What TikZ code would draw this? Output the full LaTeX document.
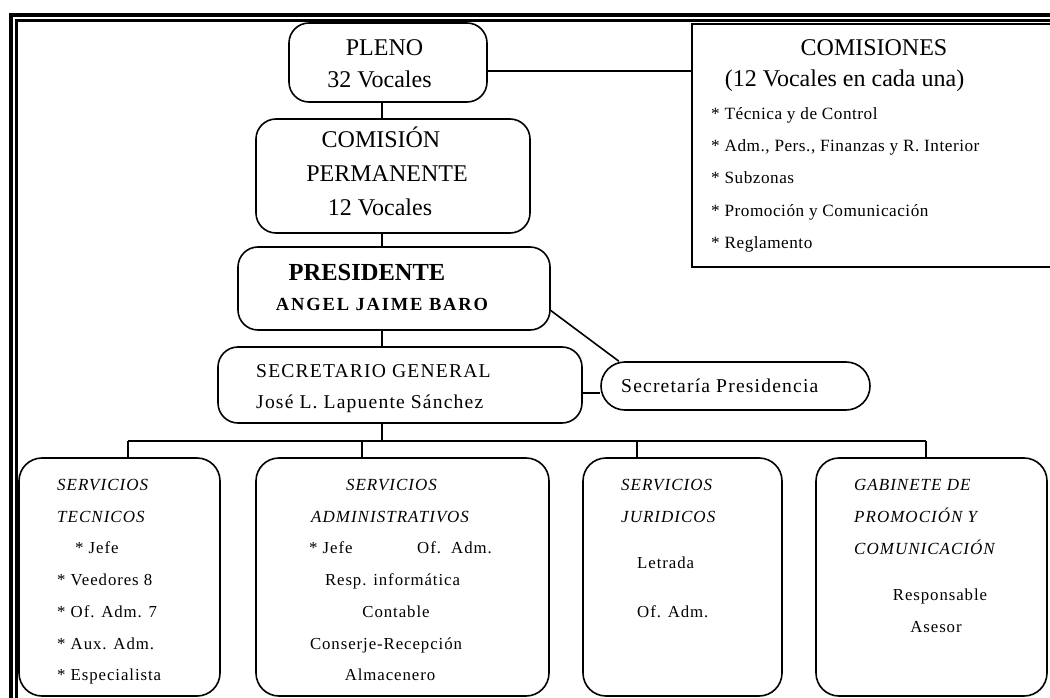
\documentclass[tikz,border=0pt]{standalone}
\usepackage{fontspec}
\setmainfont{Liberation Serif}
\newcommand{\fs}[1]{\fontsize{#1}{#1}\selectfont}
\newcommand{\ls}[1]{\addfontfeature{LetterSpace=#1}}

\begin{document}
\begin{tikzpicture}[x=1pt, y=-1pt, every node/.style={inner sep=0pt}]
\tikzset{
  ubox/.style={draw, line width=1.6pt, rounded corners=20pt},
  lbox/.style={draw, line width=1.6pt, rounded corners=23pt, minimum height=238pt},
  sbox/.style={draw, line width=1.6pt},
  pill/.style={draw, line width=1.6pt, rounded corners=24pt},
  big/.style={anchor=base, font=\fs{24}},
  mid/.style={anchor=base west, font=\fs{19.6}\ls{6}},
  itm/.style={anchor=base west, font=\fs{17.2}\ls{3}},
  txt/.style={anchor=base west, font=\fs{16.8}\ls{5.5}},
  txc/.style={anchor=base, font=\fs{16.8}\ls{5.5}},
  ttl/.style={anchor=base west, font=\fs{17}\itshape\ls{6}},
  conn/.style={line width=1.6pt}
}
\useasboundingbox (0,0) rectangle (1050,698);

% Marco
\draw[line width=4pt] (10.5,698) -- (10.5,15) -- (1050,15);
\draw[line width=2.6pt] (16.5,698) -- (16.5,20.8) -- (1050,20.8);

% Organos de gobierno
\node[ubox, minimum width=198pt, minimum height=79pt] (up_pleno) at (388,62.5) {};
\node[big] (tx_pleno) at (384.5,56) {PLENO};
\node[big] (tx_pleno2) at (379.5,88) {32 Vocales};

\node[ubox, minimum width=274pt, minimum height=114pt] (up_perm) at (393,176) {};
\node[big] (tx_perm1) at (381,148) {COMISIÓN};
\node[big] (tx_perm2) at (387,182) {PERMANENTE};
\node[big] (tx_perm3) at (380,215) {12 Vocales};

\node[ubox, minimum width=312pt, minimum height=83pt] (up_pres) at (394,288.5) {};
\node[big, font=\fs{24.5}\bfseries] (tx_pres1) at (367,280) {PRESIDENTE};
\node[big, font=\fs{18.5}\bfseries\ls{10}] (tx_pres2) at (382,310) {ANGEL JAIME BARO};

\node[ubox, minimum width=364pt, minimum height=76pt] (up_secgen) at (400,385) {};
\node[mid] (tx_secgen1) at (256,377) {SECRETARIO GENERAL};
\node[mid] (tx_secgen2) at (256,408) {José L. Lapuente Sánchez};

\node[pill, minimum width=269pt, minimum height=48pt] (up_secpres) at (735.5,386) {};
\node[mid] (tx_secpres) at (621,392) {Secretaría Presidencia};

% Comisiones
\node[sbox, minimum width=378pt, minimum height=243pt] (up_com) at (881,145.5) {};
\node[big] (tx_com1) at (874,56) {COMISIONES};
\node[big] (tx_com2) at (844.5,87) {(12 Vocales en cada una)};
\node[itm] (it_1) at (711,120) {* Técnica y de Control};
\node[itm] (it_2) at (711,152) {* Adm., Pers., Finanzas y R. Interior};
\node[itm] (it_3) at (711,184) {* Subzonas};
\node[itm] (it_4) at (711,216) {* Promoción y Comunicación};
\node[itm] (it_5) at (711,248) {* Reglamento};

% Servicios
\node[lbox, minimum width=201pt] (sv_tec) at (119.5,577) {};
\node[ttl] (tc_1) at (57,490) {SERVICIOS};
\node[ttl] (tc_2) at (57,522) {TECNICOS};
\node[txt] (tc_3) at (75,553) {* Jefe};
\node[txt] (tc_4) at (57,585) {* Veedores 8};
\node[txt] (tc_5) at (57,617) {* Of. Adm. 7};
\node[txt] (tc_6) at (57,649) {* Aux. Adm.};
\node[txt] (tc_7) at (57,680) {* Especialista};

\node[lbox, minimum width=293pt] (sv_adm) at (402.5,577) {};
\node[txc, font=\fs{17}\itshape\ls{6}] (ad_1) at (391.5,490) {SERVICIOS};
\node[txc, font=\fs{17}\itshape\ls{6}] (ad_2) at (390,522) {ADMINISTRATIVOS};
\node[txt] (ad_3) at (309,553) {* Jefe};
\node[txt] (ad_4) at (417,553) {Of.\ \ Adm.};
\node[txc] (ad_5) at (392.5,585) {Resp. informática};
\node[txc] (ad_6) at (396,617) {Contable};
\node[txc] (ad_7) at (386,649) {Conserje-Recepción};
\node[txc] (ad_8) at (390,680) {Almacenero};

\node[lbox, minimum width=199pt] (sv_jur) at (682.5,577) {};
\node[ttl] (ju_1) at (621,490) {SERVICIOS};
\node[ttl] (ju_2) at (621,522) {JURIDICOS};
\node[txt] (ju_3) at (637,568) {Letrada};
\node[txt] (ju_4) at (637,617) {Of. Adm.};

\node[lbox, minimum width=231pt] (sv_gab) at (931.5,577) {};
\node[ttl] (ga_1) at (854,490) {GABINETE DE};
\node[ttl] (ga_2) at (854,522) {PROMOCIÓN Y};
\node[ttl] (ga_3) at (854,554) {COMUNICACIÓN};
\node[txc] (ga_4) at (940,600) {Responsable};
\node[txc] (ga_5) at (936,632) {Asesor};

% Lineas
\coordinate (spine) at (382,0);
\coordinate (d_tec) at (128,441);
\coordinate (d_adm) at (362,441);
\coordinate (d_jur) at (637,441);
\coordinate (d_gab) at (926,441);

\draw[conn] ([yshift=-8.5pt]up_pleno.east) -- ([yshift=-8.5pt]up_pleno.east -| up_com.west);
\draw[conn] (up_pleno.south -| spine) -- (up_perm.north -| spine);
\draw[conn] (up_perm.south -| spine) -- (up_pres.north -| spine);
\draw[conn] (up_pres.south -| spine) -- (up_secgen.north -| spine);
\draw[conn] (up_pres.-8.7) -- (up_secpres.168);
\draw[conn] ([yshift=-8pt]up_secgen.east) -- ([yshift=-8pt]up_secgen.east -| up_secpres.west);
\draw[conn] (up_secgen.south -| spine) -- (spine |- d_tec);
\draw[conn] (d_tec) -- (d_gab);
\foreach \d/\b in {d_tec/sv_tec, d_adm/sv_adm, d_jur/sv_jur, d_gab/sv_gab}
  \draw[conn] (\d) -- (\d |- \b.north);

\end{tikzpicture}
\end{document}
